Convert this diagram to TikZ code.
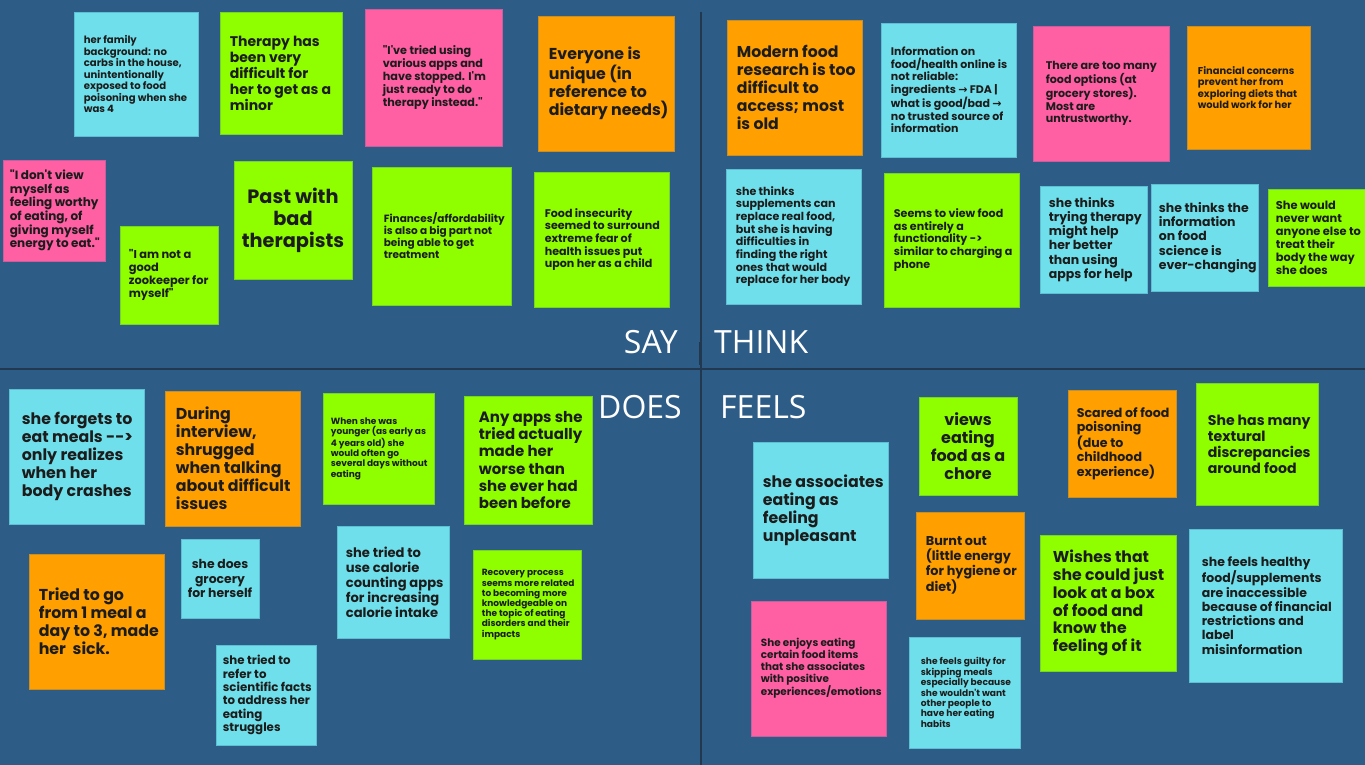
\documentclass[tikz,border=0pt]{standalone}
\usepackage{fontspec}
\usepackage{xcolor}
\setmainfont{Open Sans}
\newfontfamily\notefont{Poppins}
\newfontfamily\symfont{DejaVu Sans}
\newcommand{\fsz}[2]{\notefont\bfseries\fontsize{#1}{#2}\selectfont}
\newcommand{\arr}{{\symfont\bfseries →}}

\definecolor{board}{HTML}{2D5C87}
\definecolor{divider}{HTML}{22384F}
\definecolor{notecyan}{HTML}{6FE0EB}
\definecolor{notelime}{HTML}{8FFF00}
\definecolor{notepink}{HTML}{FF5FA3}
\definecolor{noteorange}{HTML}{FF9F00}
\definecolor{notetxt}{HTML}{1C1C1C}

\tikzset{
  note/.style={fill=#1, draw=#1!75!board, line width=0.7pt, inner sep=0pt},
  notetext/.style={anchor=west, align=left, inner sep=0pt, text=notetxt},
  notemid/.style={anchor=center, align=center, inner sep=0pt, text=notetxt},
  quadlabel/.style={text=white, inner sep=0pt, font=\fontsize{32}{38}\selectfont},
}

\begin{document}
\begin{tikzpicture}[x=1pt,y=1pt,yscale=-1,xscale=1]
\useasboundingbox (0,0) rectangle (1365,765);
\fill [board] (0,0) rectangle (1365,765);

%Straight Lines [dividers]
\coordinate (topmid) at (701,12);
\coordinate (botmid) at (701,765);
\coordinate (leftmid) at (0,369);
\coordinate (rightmid) at (1365,369);
\draw [divider, line width=1.4pt] (topmid) -- (botmid);
\draw [divider, line width=1.4pt] (leftmid) -- (rightmid);
\coordinate (marktop) at (700,342);
\coordinate (markbot) at (700,365);
\draw [divider, line width=2.4pt] (marktop) -- (markbot);

% Text Node
\node [quadlabel, anchor=base east] (say) at (678,353) {SAY};
% Text Node
\node [quadlabel, anchor=base west] (think) at (714,353) {THINK};
% Text Node
\node [quadlabel, anchor=base east] (does) at (682,418) {DOES};
% Text Node
\node [quadlabel, anchor=base west] (feels) at (720,418) {FEELS};

%% SAY
%Shape: Rectangle
\node [note=notecyan, minimum width=124pt, minimum height=124pt] (family) at (136,74) {};
% Text Node
\node [notetext, font=\fsz{10.1}{11.5}] (familyT) at ([xshift=10pt]family.west) {her family\\background: no\\carbs in the house,\\unintentionally\\exposed to food\\poisoning when she\\was 4};
%Shape: Rectangle
\node [note=notelime, minimum width=122pt, minimum height=122pt] (therapy) at (281,73) {};
% Text Node
\node [notetext, font=\fsz{14}{16}] (therapyT) at ([xshift=10pt]therapy.west) {Therapy has\\been very\\difficult for\\her to get as a\\minor};
%Shape: Rectangle
\node [note=notepink, minimum width=102pt, minimum height=101pt] (noview) at (54,210.5) {};
% Text Node
\node [notetext, font=\fsz{12}{13.7}] (noviewT) at ([xshift=7pt]noview.west) {"I don't view\\myself as\\feeling worthy\\of eating, of\\giving myself\\energy to eat."};
%Shape: Rectangle
\node [note=notelime, minimum width=118pt, minimum height=118pt] (past) at (293,220) {};
% Text Node
\node [notemid, font=\fsz{19.3}{22}] (pastT) at (past.center) {Past with\\bad\\therapists};
%Shape: Rectangle
\node [note=notelime, minimum width=98pt, minimum height=98pt] (zoo) at (169,275) {};
% Text Node
\node [notetext, font=\fsz{11.4}{13}] (zooT) at ([xshift=9pt]zoo.west) {"I am not a\\good\\zookeeper for\\myself"};
%Shape: Rectangle
\node [note=notepink, minimum width=137pt, minimum height=137pt] (appsquote) at (433.5,77.5) {};
% Text Node
\node [notetext, font=\fsz{11.2}{12.8}] (appsquoteT) at ([xshift=18pt]appsquote.west) {"I've tried using\\various apps and\\have stopped. I'm\\just ready to do\\therapy instead."};
%Shape: Rectangle
\node [note=noteorange, minimum width=136pt, minimum height=135pt] (unique) at (606,83.5) {};
% Text Node
\node [notetext, font=\fsz{15.8}{18}] (uniqueT) at ([xshift=11pt]unique.west) {Everyone is\\unique (in\\reference to\\dietary needs)};
%Shape: Rectangle
\node [note=notelime, minimum width=139pt, minimum height=138pt] (finances) at (441.5,236) {};
% Text Node
\node [notetext, font=\fsz{10.5}{12}] (financesT) at ([xshift=12pt]finances.west) {Finances/affordability\\is also a big part not\\being able to get\\treatment};
%Shape: Rectangle
\node [note=notelime, minimum width=135pt, minimum height=135pt] (insecure) at (601.5,239.5) {};
% Text Node
\node [notetext, font=\fsz{11.1}{12.7}] (insecureT) at ([xshift=11pt]insecure.west) {Food insecurity\\seemed to surround\\extreme fear of\\health issues put\\upon her as a child};

%% THINK
%Shape: Rectangle
\node [note=noteorange, minimum width=135pt, minimum height=135pt] (modern) at (794.5,87.5) {};
% Text Node
\node [notetext, font=\fsz{15.7}{17.9}] (modernT) at ([xshift=10pt]modern.west) {Modern food\\research is too\\difficult to\\access; most\\is old};
%Shape: Rectangle
\node [note=notecyan, minimum width=135pt, minimum height=134pt] (online) at (948.5,90) {};
% Text Node
\node [notetext, font=\fsz{11}{12.5}] (onlineT) at ([xshift=10pt]online.west) {Information on\\food/health online is\\not reliable:\\ingredients \arr{} FDA |\\what is good/bad \arr\\no trusted source of\\information};
%Shape: Rectangle
\node [note=notecyan, minimum width=135pt, minimum height=135pt] (supps) at (793.5,236.5) {};
% Text Node
\node [notetext, font=\fsz{11.1}{12.7}] (suppsT) at ([xshift=10pt]supps.west) {she thinks\\supplements can\\replace real food,\\but she is having\\difficulties in\\finding the right\\ones that would\\replace for her body};
%Shape: Rectangle
\node [note=notelime, minimum width=135pt, minimum height=134pt] (phone) at (951.5,240) {};
% Text Node
\node [notetext, font=\fsz{11.1}{12.7}] (phoneT) at ([xshift=10pt]phone.west) {Seems to view food\\as entirely a\\functionality ->\\similar to charging a\\phone};
%Shape: Rectangle
\node [note=notepink, minimum width=136pt, minimum height=135pt] (toomany) at (1101,93.5) {};
% Text Node
\node [notetext, font=\fsz{11.1}{12.7}] (toomanyT) at ([xshift=13pt]toomany.west) {There are too many\\food options (at\\grocery stores).\\Most are\\untrustworthy.};
%Shape: Rectangle
\node [note=noteorange, minimum width=123pt, minimum height=123pt] (money) at (1248.5,87.5) {};
% Text Node
\node [notetext, font=\fsz{9.9}{11.3}] (moneyT) at ([xshift=11pt]money.west) {Financial concerns\\prevent her from\\exploring diets that\\would work for her};
%Shape: Rectangle
\node [note=notecyan, minimum width=107pt, minimum height=107pt] (tryther) at (1093.5,239.5) {};
% Text Node
\node [notetext, font=\fsz{12.5}{14.3}] (trytherT) at ([xshift=9pt]tryther.west) {she thinks\\trying therapy\\might help\\her better\\than using\\apps for help};
%Shape: Rectangle
\node [note=notecyan, minimum width=107pt, minimum height=107pt] (science) at (1204.5,237.5) {};
% Text Node
\node [notetext, font=\fsz{12.5}{14.3}] (scienceT) at ([xshift=8pt]science.west) {she thinks the\\information\\on food\\science is\\ever-changing};
%Shape: Rectangle
\node [note=notelime, minimum width=97pt, minimum height=97pt] (never) at (1316.5,237.5) {};
% Text Node
\node [notetext, font=\fsz{11.4}{13}] (neverT) at ([xshift=8pt]never.west) {She would\\never want\\anyone else to\\treat their\\body the way\\she does};

%% DOES
%Shape: Rectangle
\node [note=notecyan, minimum width=135pt, minimum height=135pt] (forgets) at (76.5,456.5) {};
% Text Node
\node [notetext, font=\fsz{15.8}{18}] (forgetsT) at ([xshift=13pt]forgets.west) {she forgets to\\eat meals -{}-{}>\\only realizes\\when her\\body crashes};
%Shape: Rectangle
\node [note=noteorange, minimum width=135pt, minimum height=135pt] (shrug) at (232.5,458.5) {};
% Text Node
\node [notetext, font=\fsz{15.8}{18}] (shrugT) at ([xshift=11pt]shrug.west) {During\\interview,\\shrugged\\when talking\\about difficult\\issues};
%Shape: Rectangle
\node [note=noteorange, minimum width=135pt, minimum height=135pt] (meals) at (96.5,621.5) {};
% Text Node
\node [notetext, font=\fsz{15.8}{18}] (mealsT) at ([xshift=10pt]meals.west) {Tried to go\\from 1 meal a\\day to 3, made\\her\ \ sick.};
%Shape: Rectangle
\node [note=notecyan, minimum width=78pt, minimum height=79pt] (grocery) at (220,578.5) {};
% Text Node
\node [notemid, font=\fsz{12.4}{14.2}] (groceryT) at (grocery.center) {she does\\grocery\\for herself};
%Shape: Rectangle
\node [note=notecyan, minimum width=100pt, minimum height=100pt] (facts) at (266,695) {};
% Text Node
\node [notetext, font=\fsz{11.8}{13.4}] (factsT) at ([xshift=7pt]facts.west) {she tried to\\refer to\\scientific facts\\to address her\\eating\\struggles};
%Shape: Rectangle
\node [note=notelime, minimum width=111pt, minimum height=111pt] (younger) at (378.5,448.5) {};
% Text Node
\node [notetext, font=\fsz{9}{10.3}] (youngerT) at ([xshift=8pt]younger.west) {When she was\\younger (as early as\\4 years old) she\\would often go\\several days without\\eating};
%Shape: Rectangle
\node [note=notelime, minimum width=128pt, minimum height=128pt] (worse) at (528,460) {};
% Text Node
\node [notetext, font=\fsz{15}{17.1}] (worseT) at ([xshift=15pt]worse.west) {Any apps she\\tried actually\\made her\\worse than\\she ever had\\been before};
%Shape: Rectangle
\node [note=notecyan, minimum width=112pt, minimum height=112pt] (calorie) at (393,582) {};
% Text Node
\node [notetext, font=\fsz{13.1}{14.9}] (calorieT) at ([xshift=9pt]calorie.west) {she tried to\\use calorie\\counting apps\\for increasing\\calorie intake};
%Shape: Rectangle
\node [note=notelime, minimum width=108pt, minimum height=109pt] (recovery) at (527,604.5) {};
% Text Node
\node [notetext, font=\fsz{9}{10.2}] (recoveryT) at ([xshift=9pt]recovery.west) {Recovery process\\seems more related\\to becoming more\\knowledgeable on\\the topic of eating\\disorders and their\\impacts};

%% FEELS
%Shape: Rectangle
\node [note=notelime, minimum width=98pt, minimum height=98pt] (chore) at (968,446) {};
% Text Node
\node [notemid, font=\fsz{16}{18.2}] (choreT) at (chore.center) {views\\eating\\food as a\\chore};
%Shape: Rectangle
\node [note=notecyan, minimum width=135pt, minimum height=136pt] (unpleasant) at (820.5,510) {};
% Text Node
\node [notetext, font=\fsz{15.8}{18}] (unpleasantT) at ([xshift=10pt]unpleasant.west) {she associates\\eating as\\feeling\\unpleasant};
%Shape: Rectangle
\node [note=noteorange, minimum width=108pt, minimum height=107pt] (burnt) at (970,565.5) {};
% Text Node
\node [notetext, font=\fsz{12.8}{14.6}] (burntT) at ([xshift=10pt]burnt.west) {Burnt out\\(little energy\\for hygiene or\\diet)};
%Shape: Rectangle
\node [note=notepink, minimum width=135pt, minimum height=135pt] (enjoys) at (818.5,668.5) {};
% Text Node
\node [notetext, font=\fsz{10.4}{11.8}] (enjoysT) at ([xshift=10pt]enjoys.west) {She enjoys eating\\certain food items\\that she associates\\with positive\\experiences/emotions};
%Shape: Rectangle
\node [note=notecyan, minimum width=111pt, minimum height=111pt] (guilty) at (964.5,692.5) {};
% Text Node
\node [notetext, font=\fsz{9.1}{10.4}] (guiltyT) at ([xshift=12pt]guilty.west) {she feels guilty for\\skipping meals\\especially because\\she wouldn't want\\other people to\\have her eating\\habits};
%Shape: Rectangle
\node [note=noteorange, minimum width=108pt, minimum height=107pt] (scared) at (1122,443.5) {};
% Text Node
\node [notetext, font=\fsz{12.6}{14.4}] (scaredT) at ([xshift=9pt]scared.west) {Scared of food\\poisoning\\(due to\\childhood\\experience)};
%Shape: Rectangle
\node [note=notelime, minimum width=122pt, minimum height=122pt] (textural) at (1257,444) {};
% Text Node
\node [notetext, font=\fsz{14.1}{16.1}] (texturalT) at ([xshift=12pt]textural.west) {She has many\\textural\\discrepancies\\around food};
%Shape: Rectangle
\node [note=notelime, minimum width=136pt, minimum height=136pt] (wishes) at (1108,603) {};
% Text Node
\node [notetext, font=\fsz{15.7}{17.9}] (wishesT) at ([xshift=13pt]wishes.west) {Wishes that\\she could just\\look at a box\\of food and\\know the\\feeling of it};
%Shape: Rectangle
\node [note=notecyan, minimum width=153pt, minimum height=153pt] (healthy) at (1265.5,605.5) {};
% Text Node
\node [notetext, font=\fsz{12.5}{14.3}] (healthyT) at ([xshift=13pt]healthy.west) {she feels healthy\\food/supplements\\are inaccessible\\because of financial\\restrictions and\\label\\misinformation};

\end{tikzpicture}
\end{document}
